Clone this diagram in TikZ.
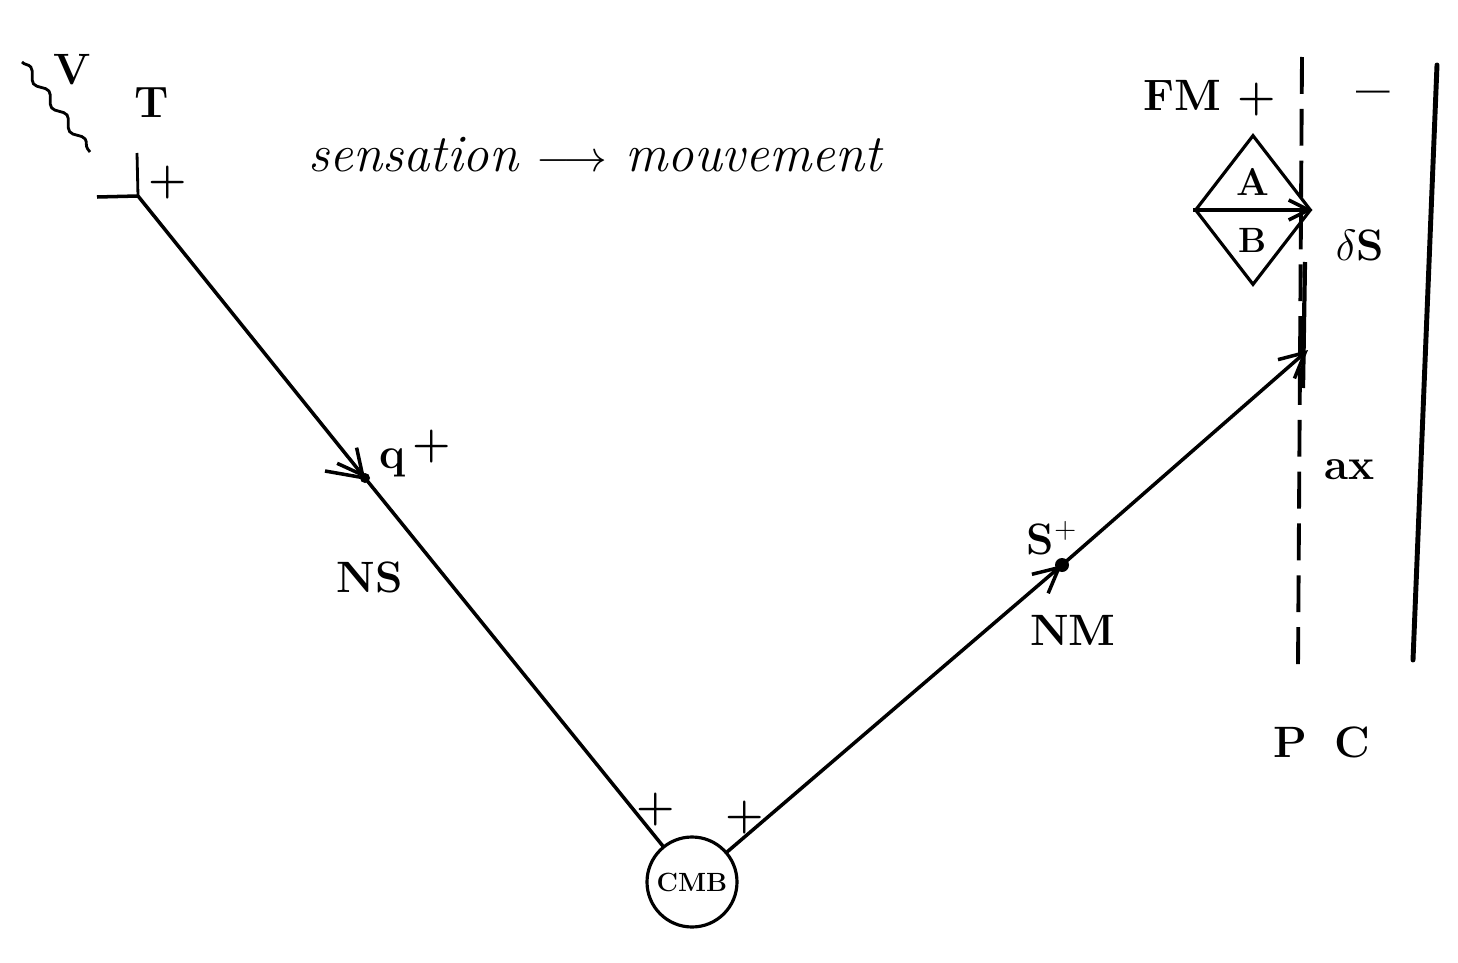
\documentclass[tikz,border=0pt]{standalone}
\usetikzlibrary{shapes,shapes.geometric,arrows.meta,decorations.pathmorphing}

\begin{document}
\begin{tikzpicture}[x=0.02cm, y=-0.02cm,
  lbl/.style={font=\fontsize{25}{30}\selectfont\bfseries, inner sep=0pt},
  nerve/.style={line width=2pt, line cap=round},
  arr/.style={nerve, -{Straight Barb[length=5mm, width=5mm, line width=2pt]}}
]
  \useasboundingbox (0,0) rectangle (1458,963);
  % points on the path
  \coordinate (tj) at (138,196);
  \coordinate (q) at (365,478);
  \coordinate (s) at (1062,565);
  \coordinate (pe) at (1308,350);
  \node[circle, draw, line width=1.8pt, minimum size=90*0.02cm, inner sep=0pt, font=\fontsize{15}{18}\selectfont\bfseries] (cmb) at (692,882) {CMB};
  \node[diamond, draw, line width=1.8pt, minimum width=116*0.02cm, minimum height=150*0.02cm, inner sep=0pt] (dia) at (1253,210) {};
  \fill (s) circle (7*0.02cm);
  \fill (q) circle (5*0.02cm);

  % labels
  \node[lbl] (v) at (72,70) {V};
  \node[lbl] (t) at (152,103) {T};
  \node[lbl] (tplus) at (168,183) {+};
  \node[lbl] (ql) at (393,463) {q};
  \node[lbl] (qplus) at (432,447) {+};
  \node[lbl] (ns) at (370,577) {NS};
  \node[lbl] (cplus1) at (656,810) {+};
  \node[lbl] (cplus2) at (745,818) {+};
  \node[lbl] (sl) at (1052,538) {S$^{+}$};
  \node[lbl] (nm) at (1073,630) {NM};
  \node[lbl] (fm) at (1210,98) {FM +};
  \node[lbl, font=\fontsize{34}{40}\selectfont\bfseries] (minus) at (1373,100) {--};
  \node[lbl] (dsl) at (1360,245) {$\delta$S};
  \node[lbl] (ax) at (1350,470) {ax};
  \node[lbl] (p) at (1290,742) {P};
  \node[lbl] (c) at (1352,742) {C};
  \node[lbl, font=\fontsize{22}{26}\selectfont\bfseries] (a) at (1253,182) {A};
  \node[lbl, font=\fontsize{20}{24}\selectfont\bfseries] (b) at (1253,240) {B};
  \node[font=\fontsize{30}{36}\selectfont\itshape, inner sep=0pt] (title) at (595,155) {sensation $\longrightarrow$ mouvement};

  % stimulus
  \draw[line width=1.6pt, decorate, decoration={snake, amplitude=0.8mm, segment length=6mm}] (22,62) -- (90,152);
  \draw[line width=1.6pt] (137,153) -- (tj);
  \draw[line width=2pt] (97,197) -- (tj);
  \draw[line width=2pt] (325,471) -- (q);

  % nerve path
  \draw[arr] (tj) -- (q);
  \draw[nerve] (q) -- (cmb);
  \draw[arr] (cmb) -- (s);
  \draw[arr] (s) -- (pe);
  \draw[line width=2pt, -{Straight Barb[length=4mm, width=4mm, line width=2pt]}] (dia.west) -- (dia.east);

  % boundaries
  \draw[line width=2.2pt, dash pattern=on 21pt off 8.5pt] (1302,57) -- (1298,668);
  \draw[line width=2.4pt] (1305,262) -- (1303,388);
  \draw[line width=2.8pt, line cap=round] (1437,65) -- (1413,660);
\end{tikzpicture}
\end{document}
